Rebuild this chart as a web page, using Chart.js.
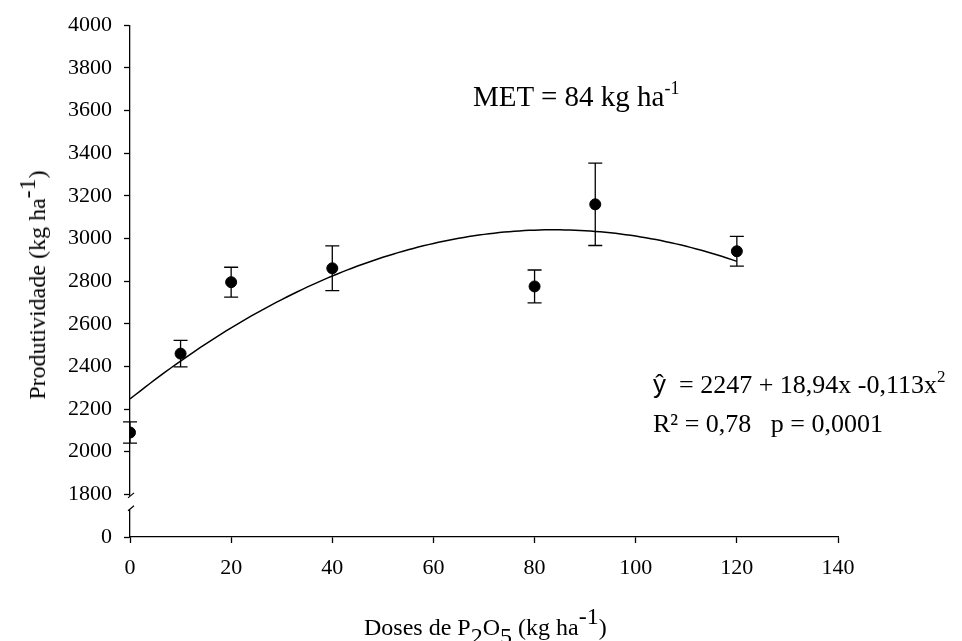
<!DOCTYPE html>
<html>
<head>
<meta charset="utf-8">
<script src="https://cdn.jsdelivr.net/npm/chart.js@4.4.1/dist/chart.umd.min.js"></script>
<style>
  html, body { margin: 0; padding: 0; background: #fff; }
  #wrap { position: relative; width: 962px; height: 641px; overflow: hidden; font-family: 'Liberation Serif', 'Times New Roman', serif; color: #000; }
  #c { position: absolute; left: 0; top: 0; }
  .t { position: absolute; white-space: nowrap; line-height: 1; }
  .t sup, .t sub { line-height: 0; position: relative; vertical-align: baseline; }
</style>
</head>
<body>
<div id="wrap">
  <canvas id="c" width="962" height="641"></canvas>
  <div class="t" id="ytitle" style="font-size:24px; left:37px; top:285px; transform: translate(-50%,-50%) rotate(-90deg);">Produtividade (kg ha<sup style="font-size:24px; top:-10px;">-1</sup>)</div>
  <div class="t" id="xtitle" style="font-size:24px; left:364px; top:615px;">Doses de P<sub style="font-size:24px; top:9px;">2</sub>O<sub style="font-size:24px; top:9px;">5</sub> (kg ha<sup style="font-size:24px; top:-11px;">-1</sup>)</div>
  <div class="t" id="met" style="font-size:29px; left:473px; top:82px;">MET = 84 kg ha<sup style="font-size:18px; top:-12px;">-1</sup></div>
  <div class="t" id="eq1" style="font-size:26px; left:653px; top:371px;"><span style="font-family:'Liberation Sans', Arial, sans-serif;">ŷ</span>&nbsp; = 2247 + 18,94x -0,113x<sup style="font-size:17px; top:-11px;">2</sup></div>
  <div class="t" id="eq2" style="font-size:26px; left:653px; top:411px;">R² = 0,78 &nbsp; p = 0,0001</div>
</div>
<script>
// ---- data ----
const doses   = [0, 10, 20, 40, 80, 92, 120];
const yields  = [2090, 2460, 2795, 2860, 2775, 3160, 2940];
const errors  = [50, 62, 70, 105, 77, 193, 70];
// fitted quadratic shown on the chart: y = a + b x + c x^2
const fitCoefficients = [2247, 18.94, -0.113];
const fitRange = [0, 120];
// axis tick labels (y axis has a break: bottom tick "0" sits one step below 1800)
const xTickValues = [0, 20, 40, 60, 80, 100, 120, 140];
const yTickLabels = ['0', '1800', '2000', '2200', '2400', '2600', '2800', '3000', '3200', '3400', '3600', '3800', '4000'];

const FONT = "'Liberation Serif', 'Times New Roman', serif";

const curve = [];
for (let x = fitRange[0]; x <= fitRange[1]; x += 1) {
  curve.push({ x: x, y: fitCoefficients[0] + fitCoefficients[1] * x + fitCoefficients[2] * x * x });
}

const points = doses.map((d, i) => ({ x: d, y: yields[i], e: errors[i] }));

const errorBarPlugin = {
  id: 'errorBars',
  afterDatasetsDraw(chart) {
    const ctx = chart.ctx;
    const xs = chart.scales.x, ys = chart.scales.y;
    ctx.save();
    ctx.strokeStyle = '#000';
    ctx.lineWidth = 1.3;
    points.forEach(p => {
      const px = xs.getPixelForValue(p.x);
      const top = ys.getPixelForValue(p.y + p.e);
      const bot = ys.getPixelForValue(p.y - p.e);
      ctx.beginPath();
      ctx.moveTo(px, top); ctx.lineTo(px, bot);
      ctx.moveTo(px - 7, top); ctx.lineTo(px + 7, top);
      ctx.moveTo(px - 7, bot); ctx.lineTo(px + 7, bot);
      ctx.stroke();
    });
    ctx.restore();
  }
};

const axisBreakPlugin = {
  id: 'axisBreak',
  afterDraw(chart) {
    const ctx = chart.ctx;
    const ys = chart.scales.y;
    const ax = chart.chartArea.left;
    const gTop = ys.getPixelForValue(1793);
    const gBot = ys.getPixelForValue(1728);
    ctx.save();
    ctx.fillStyle = '#fff';
    ctx.fillRect(ax - 3, gTop, 6, gBot - gTop);
    ctx.strokeStyle = '#000';
    ctx.lineWidth = 1.2;
    ctx.beginPath();
    ctx.moveTo(ax - 2, gTop + 2); ctx.lineTo(ax + 4, gTop - 3);
    ctx.moveTo(ax - 2, gBot + 1); ctx.lineTo(ax + 4, gBot - 4);
    ctx.stroke();
    ctx.restore();
  }
};

new Chart(document.getElementById('c'), {
  type: 'scatter',
  data: {
    datasets: [
      {
        type: 'line',
        data: curve,
        borderColor: '#000',
        borderWidth: 1.5,
        pointRadius: 0,
        fill: false,
        tension: 0,
        order: 2
      },
      {
        type: 'scatter',
        data: points,
        backgroundColor: '#000',
        borderColor: '#000',
        pointRadius: 5.5,
        pointHoverRadius: 5.5,
        order: 1
      }
    ]
  },
  options: {
    responsive: false,
    animation: false,
    events: [],
    layout: { padding: { left: 0, top: 23, right: 124, bottom: 0 } },
    plugins: { legend: { display: false }, tooltip: { enabled: false }, title: { display: false } },
    scales: {
      x: {
        type: 'linear',
        min: 0, max: 140,
        afterBuildTicks(scale) { scale.ticks = xTickValues.map(v => ({ value: v })); },
        afterFit(scale) { scale.height = 104; },
        border: { display: true, color: '#000', width: 1.3 },
        grid: { display: true, drawOnChartArea: false, drawTicks: true, tickLength: 6, color: '#000', tickWidth: 1.3 },
        ticks: { color: '#000', font: { family: FONT, size: 22 }, padding: 12, maxRotation: 0 }
      },
      y: {
        type: 'linear',
        min: 1600, max: 4000,
        ticks: {
          stepSize: 200,
          color: '#000',
          font: { family: FONT, size: 22 },
          padding: 12,
          callback: (v, i) => yTickLabels[i]
        },
        afterFit(scale) { scale.width = 130; },
        border: { display: true, color: '#000', width: 1.3 },
        grid: { display: true, drawOnChartArea: false, drawTicks: true, tickLength: 6, color: '#000', tickWidth: 1.3 }
      }
    }
  },
  plugins: [errorBarPlugin, axisBreakPlugin]
});
</script>
</body>
</html>
